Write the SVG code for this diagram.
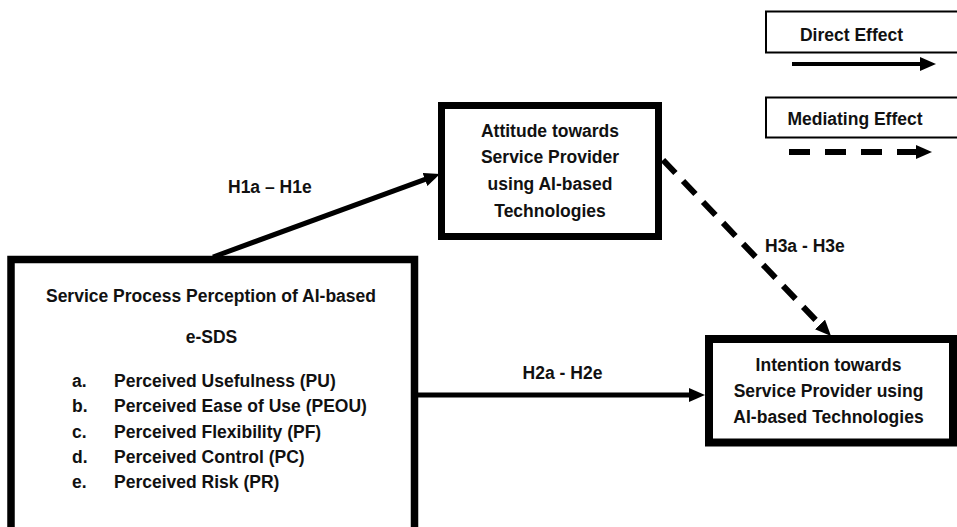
<svg xmlns="http://www.w3.org/2000/svg" width="957" height="527" viewBox="0 0 957 527">
<style>
text{font-family:"Liberation Sans",Arial,sans-serif;font-weight:bold;font-size:17.5px;fill:#111}
.c{text-anchor:middle}
.box{fill:#fff;stroke:#000}
.leg{fill:#fff;stroke:#000;stroke-width:2}
.ln{stroke:#000;fill:none}
</style>
<defs>
<marker id="ah" viewBox="0 0 16 14" markerWidth="16" markerHeight="14" markerUnits="userSpaceOnUse" refX="6" refY="7" orient="auto">
<path d="M0,0 L16,7 L0,14 z" fill="#000"/>
</marker>
</defs>
<g id="legend-direct">
<rect class="leg" x="766" y="11.5" width="200" height="41"/>
<text class="c" x="851.5" y="41">Direct Effect</text>
</g>
<g id="legend-mediating">
<rect class="leg" x="766" y="97.5" width="200" height="40"/>
<text class="c" x="855" y="125">Mediating Effect</text>
</g>
<g id="service-process">
<rect class="box" x="11" y="259.5" width="403.5" height="300" stroke-width="7.5"/>
<text class="c" x="211" y="301.5">Service Process Perception of AI-based</text>
<text class="c" x="211.5" y="343">e-SDS</text>
<text x="72" y="386.5">a.</text><text x="114" y="386.5">Perceived Usefulness (PU)</text>
<text x="72" y="412">b.</text><text x="114" y="412">Perceived Ease of Use (PEOU)</text>
<text x="72" y="437.5">c.</text><text x="114" y="437.5">Perceived Flexibility (PF)</text>
<text x="72" y="462.5">d.</text><text x="114" y="462.5">Perceived Control (PC)</text>
<text x="72" y="487.5">e.</text><text x="114" y="487.5">Perceived Risk (PR)</text>
</g>
<g id="attitude">
<rect class="box" x="441.5" y="105.5" width="217" height="131" stroke-width="7"/>
<text class="c" x="550" y="136.5">Attitude towards</text>
<text class="c" x="550" y="163">Service Provider</text>
<text class="c" x="550" y="190">using AI-based</text>
<text class="c" x="550" y="216.5">Technologies</text>
</g>
<g id="intention">
<rect class="box" x="709" y="339" width="244" height="103.5" stroke-width="8"/>
<text class="c" x="828.5" y="370.5">Intention towards</text>
<text class="c" x="828.5" y="396.5">Service Provider using</text>
<text class="c" x="828.5" y="423">AI-based Technologies</text>
</g>
<g id="connectors">
<line class="ln" x1="792" y1="64" x2="926" y2="64" stroke-width="4" marker-end="url(#ah)"/>
<line class="ln" x1="789" y1="152" x2="922" y2="152" stroke-width="6" stroke-dasharray="21 15" marker-end="url(#ah)"/>
<line class="ln" x1="213" y1="257" x2="430.6" y2="177.4" stroke-width="5" marker-end="url(#ah)"/>
<line class="ln" x1="418" y1="395" x2="695" y2="395" stroke-width="5" marker-end="url(#ah)"/>
<line class="ln" x1="663" y1="160" x2="824.1" y2="328.8" stroke-width="6" stroke-dasharray="18 11" marker-end="url(#ah)"/>
<text x="228" y="193">H1a – H1e</text>
<text class="c" x="562.5" y="379">H2a - H2e</text>
<text x="765" y="252">H3a - H3e</text>
</g>
</svg>
